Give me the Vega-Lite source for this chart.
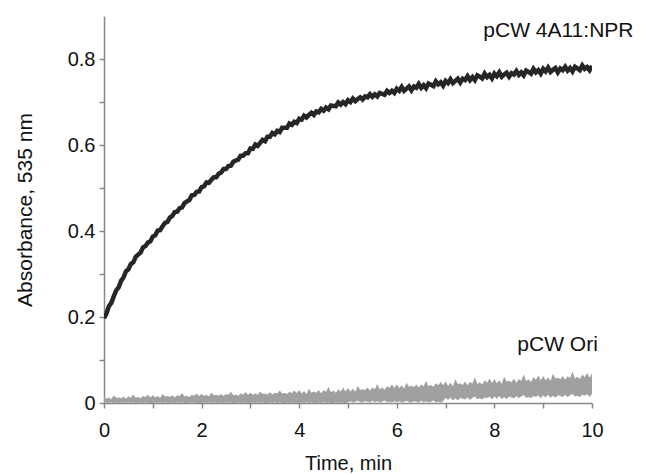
{
  "$schema": "https://vega.github.io/schema/vega-lite/v6.json",
  "width": 488,
  "height": 387,
  "autosize": "none",
  "padding": {"left": 104, "top": 16, "right": 59, "bottom": 72},
  "background": "white",
  "config": {
    "font": "Liberation Sans",
    "view": {"stroke": null},
    "axis": {"grid": false, "domainColor": "#888888", "tickColor": "#888888", "domainWidth": 1.5, "tickWidth": 1.5, "tickSize": 5, "labelColor": "#111111", "titleColor": "#111111", "labelFontSize": 20, "titleFontSize": 20, "titleFontWeight": "normal", "labelFont": "Liberation Sans", "titleFont": "Liberation Sans"}
  },
  "datasets": {
    "curves": [
      {"t":0.00,"a":0.197,"lo":0.000,"hi":0.015},{"t":0.05,"a":0.208,"lo":0.001,"hi":0.010},{"t":0.10,"a":0.225,"lo":0.000,"hi":0.013},{"t":0.15,"a":0.233,"lo":0.002,"hi":0.009},{"t":0.20,"a":0.248,"lo":0.000,"hi":0.018},
      {"t":0.25,"a":0.262,"lo":0.001,"hi":0.012},{"t":0.30,"a":0.269,"lo":0.000,"hi":0.013},{"t":0.35,"a":0.284,"lo":0.000,"hi":0.011},{"t":0.40,"a":0.292,"lo":0.001,"hi":0.015},{"t":0.45,"a":0.306,"lo":0.000,"hi":0.010},
      {"t":0.50,"a":0.311,"lo":0.002,"hi":0.015},{"t":0.55,"a":0.323,"lo":0.000,"hi":0.013},{"t":0.60,"a":0.327,"lo":0.001,"hi":0.020},{"t":0.65,"a":0.340,"lo":0.000,"hi":0.012},{"t":0.70,"a":0.345,"lo":0.000,"hi":0.014},
      {"t":0.75,"a":0.350,"lo":0.001,"hi":0.011},{"t":0.80,"a":0.362,"lo":0.000,"hi":0.016},{"t":0.85,"a":0.365,"lo":0.001,"hi":0.014},{"t":0.90,"a":0.373,"lo":0.000,"hi":0.019},{"t":0.95,"a":0.376,"lo":0.000,"hi":0.013},
      {"t":1.00,"a":0.387,"lo":0.000,"hi":0.018},{"t":1.05,"a":0.390,"lo":0.001,"hi":0.013},{"t":1.10,"a":0.401,"lo":0.000,"hi":0.016},{"t":1.15,"a":0.402,"lo":0.002,"hi":0.012},{"t":1.20,"a":0.411,"lo":0.000,"hi":0.021},
      {"t":1.25,"a":0.419,"lo":0.001,"hi":0.015},{"t":1.30,"a":0.421,"lo":0.000,"hi":0.016},{"t":1.35,"a":0.431,"lo":0.000,"hi":0.014},{"t":1.40,"a":0.435,"lo":0.001,"hi":0.018},{"t":1.45,"a":0.444,"lo":0.000,"hi":0.013},
      {"t":1.50,"a":0.445,"lo":0.002,"hi":0.018},{"t":1.55,"a":0.453,"lo":0.000,"hi":0.016},{"t":1.60,"a":0.455,"lo":0.001,"hi":0.023},{"t":1.65,"a":0.465,"lo":0.000,"hi":0.015},{"t":1.70,"a":0.469,"lo":0.000,"hi":0.017},
      {"t":1.75,"a":0.472,"lo":0.001,"hi":0.014},{"t":1.80,"a":0.483,"lo":0.000,"hi":0.019},{"t":1.85,"a":0.484,"lo":0.001,"hi":0.017},{"t":1.90,"a":0.491,"lo":0.000,"hi":0.022},{"t":1.95,"a":0.492,"lo":0.000,"hi":0.016},
      {"t":2.00,"a":0.502,"lo":0.000,"hi":0.021},{"t":2.05,"a":0.504,"lo":0.001,"hi":0.016},{"t":2.10,"a":0.513,"lo":0.000,"hi":0.019},{"t":2.15,"a":0.512,"lo":0.002,"hi":0.015},{"t":2.20,"a":0.519,"lo":0.000,"hi":0.024},
      {"t":2.25,"a":0.525,"lo":0.001,"hi":0.018},{"t":2.30,"a":0.525,"lo":0.000,"hi":0.019},{"t":2.35,"a":0.533,"lo":0.000,"hi":0.017},{"t":2.40,"a":0.536,"lo":0.001,"hi":0.021},{"t":2.45,"a":0.544,"lo":0.000,"hi":0.016},
      {"t":2.50,"a":0.544,"lo":0.002,"hi":0.021},{"t":2.55,"a":0.551,"lo":0.000,"hi":0.019},{"t":2.60,"a":0.552,"lo":0.001,"hi":0.026},{"t":2.65,"a":0.561,"lo":0.000,"hi":0.018},{"t":2.70,"a":0.564,"lo":0.000,"hi":0.020},
      {"t":2.75,"a":0.566,"lo":0.001,"hi":0.017},{"t":2.80,"a":0.575,"lo":0.000,"hi":0.022},{"t":2.85,"a":0.575,"lo":0.001,"hi":0.020},{"t":2.90,"a":0.581,"lo":0.000,"hi":0.025},{"t":2.95,"a":0.581,"lo":0.000,"hi":0.019},
      {"t":3.00,"a":0.592,"lo":0.000,"hi":0.024},{"t":3.05,"a":0.591,"lo":0.001,"hi":0.019},{"t":3.10,"a":0.601,"lo":0.000,"hi":0.022},{"t":3.15,"a":0.598,"lo":0.002,"hi":0.019},{"t":3.20,"a":0.605,"lo":0.000,"hi":0.027},
      {"t":3.25,"a":0.612,"lo":0.001,"hi":0.021},{"t":3.30,"a":0.609,"lo":0.000,"hi":0.022},{"t":3.35,"a":0.619,"lo":0.000,"hi":0.020},{"t":3.40,"a":0.619,"lo":0.001,"hi":0.025},{"t":3.45,"a":0.628,"lo":0.000,"hi":0.020},
      {"t":3.50,"a":0.625,"lo":0.002,"hi":0.024},{"t":3.55,"a":0.633,"lo":0.000,"hi":0.022},{"t":3.60,"a":0.630,"lo":0.001,"hi":0.029},{"t":3.65,"a":0.640,"lo":0.000,"hi":0.022},{"t":3.70,"a":0.640,"lo":0.000,"hi":0.024},
      {"t":3.75,"a":0.640,"lo":0.001,"hi":0.021},{"t":3.80,"a":0.650,"lo":0.000,"hi":0.026},{"t":3.85,"a":0.647,"lo":0.001,"hi":0.023},{"t":3.90,"a":0.654,"lo":0.000,"hi":0.029},{"t":3.95,"a":0.651,"lo":0.000,"hi":0.023},
      {"t":4.00,"a":0.661,"lo":0.000,"hi":0.030},{"t":4.05,"a":0.659,"lo":0.001,"hi":0.022},{"t":4.10,"a":0.668,"lo":0.000,"hi":0.028},{"t":4.15,"a":0.664,"lo":0.002,"hi":0.021},{"t":4.20,"a":0.670,"lo":0.000,"hi":0.034},
      {"t":4.25,"a":0.675,"lo":0.001,"hi":0.024},{"t":4.30,"a":0.670,"lo":0.000,"hi":0.027},{"t":4.35,"a":0.678,"lo":0.000,"hi":0.024},{"t":4.40,"a":0.676,"lo":0.001,"hi":0.030},{"t":4.45,"a":0.684,"lo":0.000,"hi":0.022},
      {"t":4.50,"a":0.680,"lo":0.002,"hi":0.030},{"t":4.55,"a":0.687,"lo":0.000,"hi":0.026},{"t":4.60,"a":0.683,"lo":0.001,"hi":0.037},{"t":4.65,"a":0.692,"lo":0.000,"hi":0.025},{"t":4.70,"a":0.691,"lo":0.000,"hi":0.029},
      {"t":4.75,"a":0.690,"lo":0.001,"hi":0.024},{"t":4.80,"a":0.699,"lo":0.000,"hi":0.032},{"t":4.85,"a":0.694,"lo":0.001,"hi":0.027},{"t":4.90,"a":0.700,"lo":0.000,"hi":0.036},{"t":4.95,"a":0.695,"lo":0.000,"hi":0.027},
      {"t":5.00,"a":0.704,"lo":0.002,"hi":0.035},{"t":5.05,"a":0.700,"lo":0.004,"hi":0.027},{"t":5.10,"a":0.708,"lo":0.001,"hi":0.033},{"t":5.15,"a":0.702,"lo":0.003,"hi":0.026},{"t":5.20,"a":0.707,"lo":0.005,"hi":0.040},
      {"t":5.25,"a":0.711,"lo":0.002,"hi":0.030},{"t":5.30,"a":0.706,"lo":0.001,"hi":0.032},{"t":5.35,"a":0.713,"lo":0.004,"hi":0.030},{"t":5.40,"a":0.711,"lo":0.003,"hi":0.036},{"t":5.45,"a":0.718,"lo":0.001,"hi":0.029},
      {"t":5.50,"a":0.712,"lo":0.005,"hi":0.036},{"t":5.55,"a":0.718,"lo":0.002,"hi":0.032},{"t":5.60,"a":0.713,"lo":0.004,"hi":0.044},{"t":5.65,"a":0.721,"lo":0.001,"hi":0.032},{"t":5.70,"a":0.719,"lo":0.003,"hi":0.036},
      {"t":5.75,"a":0.717,"lo":0.006,"hi":0.031},{"t":5.80,"a":0.726,"lo":0.002,"hi":0.039},{"t":5.85,"a":0.721,"lo":0.003,"hi":0.035},{"t":5.90,"a":0.726,"lo":0.001,"hi":0.043},{"t":5.95,"a":0.721,"lo":0.004,"hi":0.035},
      {"t":6.00,"a":0.731,"lo":0.002,"hi":0.043},{"t":6.05,"a":0.726,"lo":0.004,"hi":0.035},{"t":6.10,"a":0.735,"lo":0.001,"hi":0.041},{"t":6.15,"a":0.726,"lo":0.003,"hi":0.034},{"t":6.20,"a":0.731,"lo":0.005,"hi":0.047},
      {"t":6.25,"a":0.736,"lo":0.002,"hi":0.038},{"t":6.30,"a":0.727,"lo":0.001,"hi":0.040},{"t":6.35,"a":0.736,"lo":0.004,"hi":0.037},{"t":6.40,"a":0.733,"lo":0.003,"hi":0.043},{"t":6.45,"a":0.742,"lo":0.001,"hi":0.036},
      {"t":6.50,"a":0.733,"lo":0.005,"hi":0.043},{"t":6.55,"a":0.739,"lo":0.002,"hi":0.039},{"t":6.60,"a":0.732,"lo":0.004,"hi":0.051},{"t":6.65,"a":0.743,"lo":0.001,"hi":0.039},{"t":6.70,"a":0.740,"lo":0.003,"hi":0.042},
      {"t":6.75,"a":0.737,"lo":0.006,"hi":0.038},{"t":6.80,"a":0.748,"lo":0.002,"hi":0.046},{"t":6.85,"a":0.741,"lo":0.003,"hi":0.041},{"t":6.90,"a":0.746,"lo":0.001,"hi":0.049},{"t":6.95,"a":0.738,"lo":0.004,"hi":0.041},
      {"t":7.00,"a":0.749,"lo":0.012,"hi":0.050},{"t":7.05,"a":0.744,"lo":0.007,"hi":0.040},{"t":7.10,"a":0.753,"lo":0.013,"hi":0.047},{"t":7.15,"a":0.744,"lo":0.006,"hi":0.039},{"t":7.20,"a":0.749,"lo":0.011,"hi":0.055},
      {"t":7.25,"a":0.754,"lo":0.006,"hi":0.044},{"t":7.30,"a":0.745,"lo":0.012,"hi":0.046},{"t":7.35,"a":0.754,"lo":0.010,"hi":0.042},{"t":7.40,"a":0.751,"lo":0.008,"hi":0.050},{"t":7.45,"a":0.760,"lo":0.013,"hi":0.041},
      {"t":7.50,"a":0.751,"lo":0.007,"hi":0.049},{"t":7.55,"a":0.758,"lo":0.012,"hi":0.045},{"t":7.60,"a":0.751,"lo":0.015,"hi":0.060},{"t":7.65,"a":0.762,"lo":0.009,"hi":0.044},{"t":7.70,"a":0.759,"lo":0.011,"hi":0.048},
      {"t":7.75,"a":0.755,"lo":0.008,"hi":0.043},{"t":7.80,"a":0.766,"lo":0.013,"hi":0.053},{"t":7.85,"a":0.758,"lo":0.011,"hi":0.047},{"t":7.90,"a":0.763,"lo":0.015,"hi":0.057},{"t":7.95,"a":0.755,"lo":0.008,"hi":0.046},
      {"t":8.00,"a":0.766,"lo":0.015,"hi":0.056},{"t":8.05,"a":0.760,"lo":0.010,"hi":0.046},{"t":8.10,"a":0.769,"lo":0.016,"hi":0.053},{"t":8.15,"a":0.759,"lo":0.009,"hi":0.045},{"t":8.20,"a":0.764,"lo":0.014,"hi":0.061},
      {"t":8.25,"a":0.768,"lo":0.009,"hi":0.050},{"t":8.30,"a":0.759,"lo":0.015,"hi":0.052},{"t":8.35,"a":0.767,"lo":0.013,"hi":0.048},{"t":8.40,"a":0.764,"lo":0.011,"hi":0.057},{"t":8.45,"a":0.772,"lo":0.016,"hi":0.047},
      {"t":8.50,"a":0.763,"lo":0.011,"hi":0.056},{"t":8.55,"a":0.769,"lo":0.015,"hi":0.052},{"t":8.60,"a":0.762,"lo":0.018,"hi":0.066},{"t":8.65,"a":0.773,"lo":0.012,"hi":0.051},{"t":8.70,"a":0.770,"lo":0.014,"hi":0.055},
      {"t":8.75,"a":0.766,"lo":0.011,"hi":0.049},{"t":8.80,"a":0.777,"lo":0.016,"hi":0.060},{"t":8.85,"a":0.769,"lo":0.014,"hi":0.054},{"t":8.90,"a":0.774,"lo":0.018,"hi":0.064},{"t":8.95,"a":0.766,"lo":0.011,"hi":0.053},
      {"t":9.00,"a":0.777,"lo":0.018,"hi":0.063},{"t":9.05,"a":0.771,"lo":0.013,"hi":0.053},{"t":9.10,"a":0.780,"lo":0.019,"hi":0.060},{"t":9.15,"a":0.770,"lo":0.012,"hi":0.052},{"t":9.20,"a":0.775,"lo":0.017,"hi":0.068},
      {"t":9.25,"a":0.779,"lo":0.012,"hi":0.057},{"t":9.30,"a":0.769,"lo":0.018,"hi":0.059},{"t":9.35,"a":0.778,"lo":0.016,"hi":0.055},{"t":9.40,"a":0.774,"lo":0.014,"hi":0.063},{"t":9.45,"a":0.782,"lo":0.019,"hi":0.054},
      {"t":9.50,"a":0.773,"lo":0.014,"hi":0.062},{"t":9.55,"a":0.779,"lo":0.018,"hi":0.058},{"t":9.60,"a":0.771,"lo":0.021,"hi":0.073},{"t":9.65,"a":0.782,"lo":0.015,"hi":0.057},{"t":9.70,"a":0.778,"lo":0.017,"hi":0.061},
      {"t":9.75,"a":0.774,"lo":0.014,"hi":0.056},{"t":9.80,"a":0.785,"lo":0.019,"hi":0.066},{"t":9.85,"a":0.777,"lo":0.017,"hi":0.060},{"t":9.90,"a":0.781,"lo":0.021,"hi":0.070},{"t":9.95,"a":0.774,"lo":0.014,"hi":0.059},
      {"t":10.00,"a":0.784,"lo":0.021,"hi":0.069}
    ],
    "labels": [
      {"t": 10.85, "v": 0.864, "label": "pCW 4A11:NPR"},
      {"t": 10.12, "v": 0.135, "label": "pCW Ori"}
    ]
  },
  "layer": [
    {
      "data": {"name": "curves"},
      "mark": {"type": "area", "color": "#a0a0a0", "opacity": 1, "clip": true},
      "encoding": {
        "x": {"field": "t", "type": "quantitative", "scale": {"domain": [0, 10], "nice": false},
          "axis": {"title": "Time, min", "values": [0,1,2,3,4,5,6,7,8,9,10], "labelExpr": "datum.value % 2 == 0 ? datum.label : ''", "labelPadding": 12, "titlePadding": 13, "labelFlush": false}},
        "y": {"field": "lo", "type": "quantitative", "scale": {"domain": [0, 0.9], "nice": false},
          "axis": {"title": "Absorbance, 535 nm", "titleFontSize": 21, "values": [0,0.1,0.2,0.3,0.4,0.5,0.6,0.7,0.8], "format": ".1~f", "labelExpr": "round(datum.value*10) % 2 == 0 ? datum.label : ''", "labelPadding": 4, "titlePadding": 32}},
        "y2": {"field": "hi"}
      }
    },
    {
      "data": {"name": "curves"},
      "mark": {"type": "line", "color": "#262626", "strokeWidth": 4.5, "clip": true},
      "encoding": {
        "x": {"field": "t", "type": "quantitative"},
        "y": {"field": "a", "type": "quantitative"}
      }
    },
    {
      "data": {"name": "labels"},
      "mark": {"type": "text", "align": "right", "baseline": "middle", "fontSize": 21, "color": "#111111", "font": "Liberation Sans"},
      "encoding": {
        "x": {"field": "t", "type": "quantitative"},
        "y": {"field": "v", "type": "quantitative"},
        "text": {"field": "label"}
      }
    }
  ]
}
